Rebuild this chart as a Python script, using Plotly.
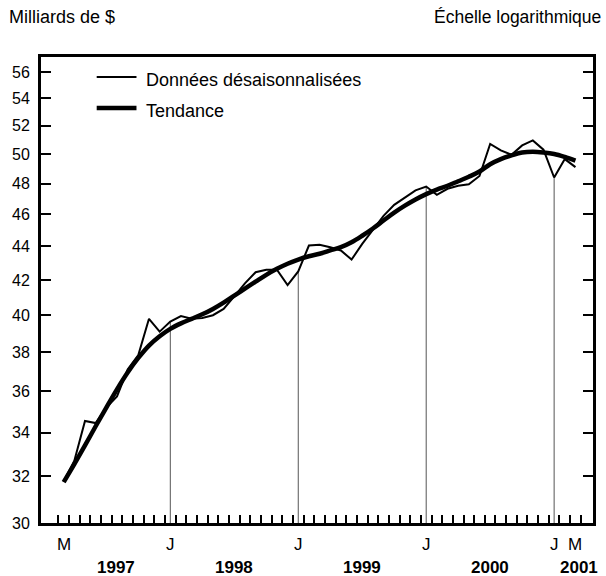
import math
import plotly.graph_objects as go

# Monthly data, March 1997 .. March 2001 (49 months)
months = list(range(49))
raw = [31.77, 32.7, 34.55, 34.45, 35.2, 35.75, 37.1, 37.85, 39.8, 39.1,
       39.65, 39.95, 39.8, 39.85, 40.0, 40.35, 41.05, 41.8, 42.45, 42.6,
       42.6, 41.7, 42.5, 44.05, 44.1, 43.95, 43.75, 43.2, 44.15, 45.0,
       45.9, 46.6, 47.05, 47.55, 47.8, 47.25, 47.65, 47.85, 47.95, 48.5,
       50.7, 50.25, 49.95, 50.6, 50.95, 50.3, 48.4, 49.65, 49.1]
trend = [31.75, 32.55, 33.4, 34.3, 35.2, 36.1, 36.95, 37.7, 38.35, 38.85,
         39.25, 39.55, 39.8, 40.05, 40.35, 40.7, 41.1, 41.5, 41.9, 42.3,
         42.65, 42.95, 43.2, 43.4, 43.55, 43.75, 43.95, 44.25, 44.65, 45.1,
         45.6, 46.1, 46.55, 46.95, 47.3, 47.6, 47.85, 48.15, 48.45, 48.8,
         49.3, 49.65, 49.9, 50.1, 50.15, 50.1, 50.0, 49.8, 49.55]
y_ticks = [30, 32, 34, 36, 38, 40, 42, 44, 46, 48, 50, 52, 54, 56]
month_labels = {0: "M", 10: "J", 22: "J", 34: "J", 46: "J", 48: "M"}
year_labels = {4.9: "1997", 16: "1998", 28: "1999", 40: "2000", 48.3: "2001"}
jan_months = [10, 22, 34, 46]
y_base = 30

FONT = "Liberation Sans, Arial, sans-serif"
FS = 17

fig = go.Figure()

# vertical drop lines at January
vx, vy = [], []
for m in jan_months:
    vx += [m, m, None]
    vy += [y_base, raw[m], None]
fig.add_trace(go.Scatter(x=vx, y=vy, mode="lines",
                         line=dict(color="#555555", width=1),
                         hoverinfo="skip", showlegend=False))

fig.add_trace(go.Scatter(x=months, y=raw, mode="lines",
                         line=dict(color="black", width=2),
                         name="Données désaisonnalisées", showlegend=False))
fig.add_trace(go.Scatter(x=months, y=trend, mode="lines",
                         line=dict(color="black", width=4.5, shape="spline"),
                         name="Tendance", showlegend=False))

annotations = []
for m, t in month_labels.items():
    annotations.append(dict(x=m, y=-0.047, xref="x", yref="paper", text=t,
                            showarrow=False, font=dict(size=FS, family=FONT, color="black"),
                            xanchor="center", yanchor="middle"))
for m, t in year_labels.items():
    annotations.append(dict(x=m, y=-0.096, xref="x", yref="paper", text="<b>%s</b>" % t,
                            showarrow=False, font=dict(size=FS, family=FONT, color="black"),
                            xanchor="center", yanchor="middle"))
annotations.append(dict(x=(7 - 41) / 555, y=(523 - 17) / 466, xref="paper", yref="paper",
                        text="Milliards de $", showarrow=False, xanchor="left", yanchor="middle",
                        font=dict(size=18, family=FONT, color="black")))
annotations.append(dict(x=(606 - 41) / 555, y=(523 - 17) / 466, xref="paper", yref="paper",
                        text="Échelle logarithmique", showarrow=False, xanchor="right", yanchor="middle",
                        font=dict(size=17.5, family=FONT, color="black")))
# legend (manual)
annotations.append(dict(x=(145 - 41) / 555, y=(523 - 80) / 466, xref="paper", yref="paper",
                        text="Données désaisonnalisées", showarrow=False, xanchor="left", yanchor="middle",
                        font=dict(size=18, family=FONT, color="black")))
annotations.append(dict(x=(145 - 41) / 555, y=(523 - 111) / 466, xref="paper", yref="paper",
                        text="Tendance", showarrow=False, xanchor="left", yanchor="middle",
                        font=dict(size=18, family=FONT, color="black")))
shapes = [
    dict(type="line", xref="paper", yref="paper", x0=(97 - 41) / 555, x1=(137 - 41) / 555,
         y0=(523 - 77) / 466, y1=(523 - 77) / 466, line=dict(color="black", width=2)),
    dict(type="line", xref="paper", yref="paper", x0=(97 - 41) / 555, x1=(137 - 41) / 555,
         y0=(523 - 108) / 466, y1=(523 - 108) / 466, line=dict(color="black", width=4.5)),
]

fig.update_layout(
    width=606, height=576,
    margin=dict(l=41, r=10, t=57, b=53),
    paper_bgcolor="white", plot_bgcolor="white",
    font=dict(family=FONT, size=FS, color="black"),
    annotations=annotations, shapes=shapes,
    showlegend=False,
)
fig.update_xaxes(range=[-2.127, 49.645], tickvals=[m - 0.5 for m in range(50)],
                 showticklabels=False, ticks="inside", ticklen=8, tickwidth=2, tickcolor="black",
                 showline=True, linewidth=3, linecolor="black", mirror=True,
                 showgrid=False, zeroline=False)
fig.update_yaxes(type="log", range=[math.log10(30), 1.7573], tickvals=y_ticks,
                 ticktext=[str(v) for v in y_ticks],
                 tickfont=dict(size=16, family=FONT, color="black"),
                 ticks="inside", ticklen=10, tickwidth=2, tickcolor="black",
                 showline=True, linewidth=3, linecolor="black", mirror="ticks",
                 showgrid=False, zeroline=False, ticklabelstandoff=5)

fig.write_html("out.html", config={"displayModeBar": False},
               post_script="document.body.style.margin='0';document.body.style.overflow='hidden';")
